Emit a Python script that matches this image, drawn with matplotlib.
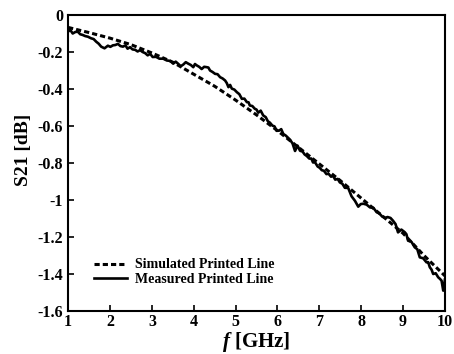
import matplotlib
matplotlib.use('Agg')
import matplotlib.pyplot as plt

plt.rcParams['font.family'] = 'Liberation Serif'
plt.rcParams['font.weight'] = 'bold'
plt.rcParams['mathtext.fontset'] = 'custom'
plt.rcParams['mathtext.it'] = 'Liberation Serif:italic:bold'

# simulated printed line (smooth curve)
sim_f = [1, 1.5, 2, 2.5, 3, 3.5, 4, 4.5, 5, 5.5, 6, 6.5, 7, 7.5, 8, 8.5, 9, 9.5, 10]
sim_s21 = [-0.067, -0.095, -0.125, -0.16, -0.205, -0.255, -0.32, -0.385, -0.46, -0.54,
           -0.625, -0.715, -0.805, -0.895, -0.99, -1.085, -1.18, -1.30, -1.41]

# measured printed line
meas_f = [1.0, 1.05, 1.11, 1.17, 1.23, 1.29, 1.35, 1.41, 1.47, 1.55, 1.61, 1.67, 1.73, 1.79,
          1.87, 1.95, 2.01, 2.07, 2.13, 2.19, 2.25, 2.31, 2.37, 2.42, 2.48, 2.54, 2.60, 2.66,
          2.72, 2.78, 2.84, 2.90, 2.96, 3.02, 3.10, 3.18, 3.27, 3.36, 3.44, 3.51, 3.57, 3.63,
          3.69, 3.75, 3.81, 3.87, 3.93, 3.99, 4.03, 4.07, 4.13, 4.19, 4.25, 4.31, 4.35, 4.39,
          4.45, 4.51, 4.57, 4.63, 4.69, 4.75, 4.79, 4.83, 4.87, 4.91, 4.97, 5.03, 5.09, 5.15,
          5.21, 5.27, 5.31, 5.34, 5.40, 5.46, 5.50, 5.54, 5.60, 5.66, 5.72, 5.77, 5.82, 5.88,
          5.93, 5.98, 6.04, 6.09, 6.14, 6.20, 6.25, 6.30, 6.36, 6.42, 6.48, 6.54, 6.60, 6.65,
          6.70, 6.76, 6.81, 6.85, 6.90, 6.96, 7.01, 7.06, 7.11, 7.17, 7.22, 7.28, 7.33, 7.38,
          7.44, 7.49, 7.55, 7.61, 7.69, 7.73, 7.77, 7.85, 7.93, 7.99, 8.05, 8.13, 8.21, 8.29,
          8.37, 8.43, 8.50, 8.57, 8.63, 8.70, 8.76, 8.82, 8.88, 8.96, 9.04, 9.08, 9.12, 9.20,
          9.28, 9.34, 9.40, 9.48, 9.56, 9.60, 9.64, 9.68, 9.72, 9.78, 9.84, 9.88, 9.92, 9.96,
          10.0]
meas_s21 = [-0.09, -0.08, -0.10, -0.092, -0.09, -0.104, -0.108, -0.114, -0.117, -0.126, -0.13,
            -0.144, -0.155, -0.171, -0.18, -0.166, -0.172, -0.164, -0.162, -0.156, -0.168, -0.171,
            -0.164, -0.182, -0.174, -0.186, -0.188, -0.197, -0.19, -0.2, -0.206, -0.218, -0.21,
            -0.227, -0.226, -0.236, -0.236, -0.246, -0.248, -0.263, -0.252, -0.264, -0.277, -0.268,
            -0.255, -0.263, -0.27, -0.282, -0.265, -0.272, -0.28, -0.292, -0.28, -0.282, -0.284,
            -0.3, -0.308, -0.318, -0.32, -0.336, -0.343, -0.354, -0.368, -0.39, -0.378, -0.398,
            -0.403, -0.417, -0.428, -0.453, -0.452, -0.471, -0.472, -0.489, -0.492, -0.507, -0.511,
            -0.528, -0.517, -0.543, -0.552, -0.574, -0.582, -0.598, -0.602, -0.626, -0.625, -0.617,
            -0.643, -0.652, -0.663, -0.674, -0.694, -0.735, -0.706, -0.734, -0.738, -0.754, -0.762,
            -0.776, -0.776, -0.797, -0.797, -0.819, -0.826, -0.839, -0.842, -0.86, -0.858, -0.874,
            -0.87, -0.89, -0.886, -0.905, -0.912, -0.934, -0.935, -0.958, -0.98, -1.004, -1.036,
            -1.022, -1.02, -1.025, -1.04, -1.042, -1.066, -1.072, -1.089, -1.097, -1.092, -1.097,
            -1.112, -1.13, -1.175, -1.16, -1.174, -1.185, -1.22, -1.226, -1.256, -1.266, -1.31,
            -1.315, -1.337, -1.336, -1.364, -1.376, -1.4, -1.396, -1.418, -1.426, -1.436, -1.49, -1.43]

xticks = [1, 2, 3, 4, 5, 6, 7, 8, 9, 10]
yticks = [0, -0.2, -0.4, -0.6, -0.8, -1, -1.2, -1.4, -1.6]
ytick_labels = ['0', '-0.2', '-0.4', '-0.6', '-0.8', '-1', '-1.2', '-1.4', '-1.6']

fig = plt.figure(figsize=(4.54, 3.54), dpi=100)
ax = fig.add_axes([0.150, 0.1215, 0.830, 0.8361])

ax.plot(sim_f, sim_s21, color='black', linewidth=2.2, linestyle=(0, (1.7, 1.0)),
        label='Simulated Printed Line')
ax.plot(meas_f, meas_s21, color='black', linewidth=1.9, label='Measured Printed Line')

ax.set_xlim(1, 10)
ax.set_ylim(-1.6, 0)
ax.set_xticks(xticks)
ax.set_xticklabels([str(t) for t in xticks])
ax.set_yticks(yticks)
ax.set_yticklabels(ytick_labels)
ax.tick_params(direction='in', length=4, width=1.2, labelsize=11.5, top=False, right=False)
ax.tick_params(axis='x', pad=2)
for s in ax.spines.values():
    s.set_linewidth(1.5)

ax.set_xlabel(r'$f$ [GHz]', fontsize=15, fontweight='bold', labelpad=0)
ax.set_ylabel('S21 [dB]', fontsize=14, fontweight='bold')
ax.yaxis.set_label_coords(-0.095, 0.544)

ax.legend(loc='lower left', bbox_to_anchor=(0.069, 0.084), frameon=False,
          prop={'size': 10, 'weight': 'bold'}, handlelength=2.4, handletextpad=0.58,
          labelspacing=0.12, borderaxespad=0, borderpad=0)

plt.savefig('out.png', dpi=100)
